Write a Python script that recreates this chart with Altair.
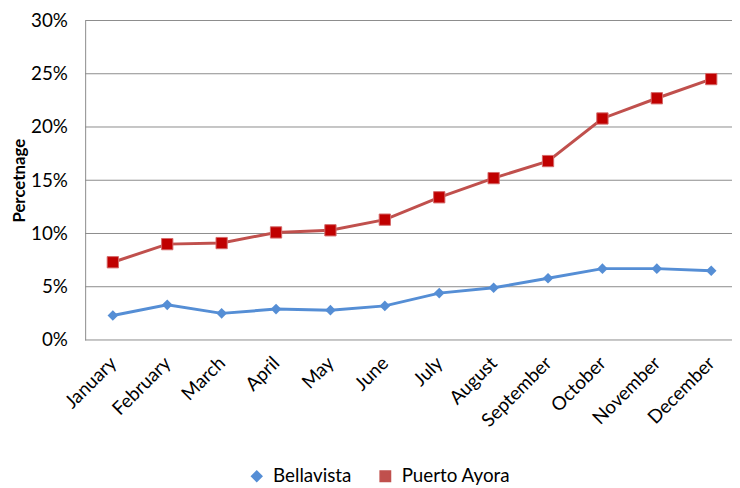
import altair as alt
import pandas as pd

months = ["January", "February", "March", "April", "May", "June", "July",
          "August", "September", "October", "November", "December"]
bellavista = [0.023, 0.033, 0.025, 0.029, 0.028, 0.032, 0.044, 0.049, 0.058, 0.067, 0.067, 0.065]
puerto_ayora = [0.073, 0.090, 0.091, 0.101, 0.103, 0.113, 0.134, 0.152, 0.168, 0.208, 0.227, 0.245]
series_names = ["Bellavista", "Puerto Ayora"]
series_shapes = ["diamond", "square"]
line_colors = ["#558ED5", "#C0504D"]
y_ticks = [0, 0.05, 0.10, 0.15, 0.20, 0.25, 0.30]

df = pd.DataFrame({
    "month": months * 2,
    "series": [series_names[0]] * 12 + [series_names[1]] * 12,
    "value": bellavista + puerto_ayora,
})
grid_df = pd.DataFrame({"value": y_ticks})

FONT = "Lato"
W = 654
x_enc = alt.X("month:N", sort=months,
              scale=alt.Scale(type="point", domain=months, range=[28, 633], padding=0),
              axis=alt.Axis(title=None, labelAngle=-45, labelAlign="right",
                            labelBaseline="middle", labelPadding=20, ticks=False,
                            domain=False, labelFontSize=19,
                            labelColor="#000000", grid=False))
y_scale = alt.Scale(domain=[0, 0.30], nice=False)
y_axis = alt.Axis(title="Percetnage", format=".0%", values=y_ticks,
                  ticks=False, labelPadding=18, labelFontSize=19,
                  labelColor="#000000", titleFontSize=17,
                  titleFontWeight="bold", titlePadding=2,
                  domainColor="#8C8C8C", grid=False)
y_enc = alt.Y("value:Q", scale=y_scale, axis=y_axis)

grid = alt.Chart(grid_df).mark_rule(color="#8C8C8C", strokeWidth=1).encode(
    y=y_enc,
    x=alt.value(0), x2=alt.value(W),
)

legend = alt.Legend(title=None, orient="none", legendX=164, legendY=451,
                    direction="horizontal", symbolSize=110, labelFontSize=19,
                    labelColor="#000000", columnPadding=24, labelOffset=7)
color_enc = alt.Color("series:N", scale=alt.Scale(domain=series_names, range=line_colors),
                      legend=legend)
shape_enc = alt.Shape("series:N", scale=alt.Scale(domain=series_names, range=series_shapes),
                      legend=legend)

base = alt.Chart(df)

lines = base.mark_line(strokeWidth=3).encode(x=x_enc, y=y_enc, color=color_enc)
points = base.mark_point(filled=True, size=115, opacity=1).encode(
    x=x_enc, y=y_enc, color=color_enc, shape=shape_enc)
squares = base.transform_filter(alt.datum.series == series_names[1]).mark_point(
    shape="square", filled=True, size=130, color="#C00000", opacity=1,
    stroke="#D46A6A", strokeWidth=1
).encode(x=x_enc, y=y_enc)

chart = alt.layer(grid, lines, points, squares).properties(
    width=W, height=323,
    autosize=alt.AutoSizeParams(type="none"),
    padding={"left": 78, "top": 10, "right": 0, "bottom": 146},
).configure(font=FONT).configure_view(stroke=None)

chart.save("out.html", embed_options={"renderer": "svg", "actions": False})
